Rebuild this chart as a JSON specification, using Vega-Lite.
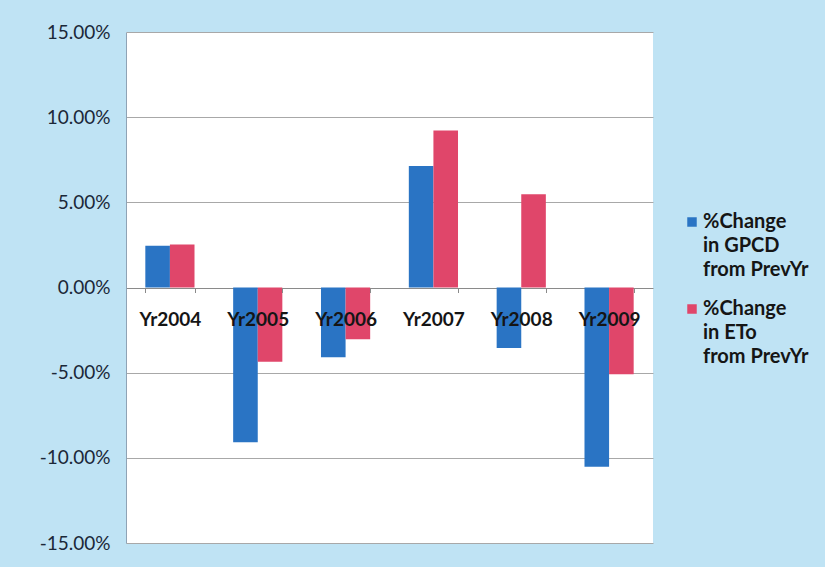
{
  "$schema": "https://vega.github.io/schema/vega-lite/v6.json",
  "width": 527,
  "height": 511,
  "autosize": {"type": "none"},
  "padding": {"left": 126, "top": 32, "right": 172, "bottom": 24},
  "background": "#bfe3f4",
  "data": {
    "values": [
      {"year": "Yr2004", "series": "%Change in GPCD from PrevYr", "value": 0.0245},
      {"year": "Yr2004", "series": "%Change in ETo from PrevYr", "value": 0.0253},
      {"year": "Yr2005", "series": "%Change in GPCD from PrevYr", "value": -0.0909},
      {"year": "Yr2005", "series": "%Change in ETo from PrevYr", "value": -0.0436},
      {"year": "Yr2006", "series": "%Change in GPCD from PrevYr", "value": -0.041},
      {"year": "Yr2006", "series": "%Change in ETo from PrevYr", "value": -0.0304},
      {"year": "Yr2007", "series": "%Change in GPCD from PrevYr", "value": 0.0713},
      {"year": "Yr2007", "series": "%Change in ETo from PrevYr", "value": 0.0921},
      {"year": "Yr2008", "series": "%Change in GPCD from PrevYr", "value": -0.0355},
      {"year": "Yr2008", "series": "%Change in ETo from PrevYr", "value": 0.0547},
      {"year": "Yr2009", "series": "%Change in GPCD from PrevYr", "value": -0.1053},
      {"year": "Yr2009", "series": "%Change in ETo from PrevYr", "value": -0.051}
    ]
  },
  "mark": {"type": "bar"},
  "encoding": {
    "x": {
      "field": "year",
      "type": "nominal",
      "sort": null,
      "scale": {"paddingInner": 0.44, "paddingOuter": 0.22},
      "axis": {
        "title": null,
        "orient": "bottom",
        "offset": -255.5,
        "zindex": 1,
        "domain": false,
        "labelAngle": 0,
        "labelFont": "Lato",
        "labelFontWeight": "bold",
        "labelFontSize": 19,
        "labelColor": "#151515",
        "tickBand": "extent",
        "tickSize": 5,
        "tickColor": "#8a8a8a",
        "labelPadding": 18,
        "grid": false
      }
    },
    "xOffset": {
      "field": "series",
      "type": "nominal",
      "scale": {"domain": ["%Change in GPCD from PrevYr", "%Change in ETo from PrevYr"]}
    },
    "y": {
      "field": "value",
      "type": "quantitative",
      "scale": {"domain": [-0.15, 0.15], "nice": false},
      "axis": {
        "title": null,
        "values": [-0.15, -0.1, -0.05, 0, 0.05, 0.1, 0.15],
        "labelExpr": "replace(format(datum.value, '.2%'), '−', '-')",
        "labelFont": "Lato",
        "labelFontSize": 19,
        "labelColor": "#1b2838",
        "ticks": false,
        "labelPadding": 16,
        "domainColor": "#8fa3b5",
        "gridColor": {"condition": {"test": "datum.value === 0", "value": "#8a8a8a"}, "value": "#a8a8a8"},
        "gridWidth": 1
      }
    },
    "color": {
      "field": "series",
      "type": "nominal",
      "scale": {
        "domain": ["%Change in GPCD from PrevYr", "%Change in ETo from PrevYr"],
        "range": ["#2a74c4", "#e0466a"]
      },
      "legend": {
        "title": null,
        "orient": "none",
        "legendX": 556,
        "legendY": 180,
        "padding": 0,
        "symbolType": "square",
        "symbolSize": 90,
        "symbolStrokeWidth": 0,
        "symbolOpacity": 1,
        "labelFont": "Lato",
        "labelFontWeight": "bold",
        "labelFontSize": 20,
        "labelColor": "#151515",
        "labelLimit": 250,
        "labelOffset": 1,
        "labelBaseline": "top",
        "rowPadding": 19,
        "labelExpr": "split(replace(replace(datum.label, ' in ', '|in '), ' from ', '|from '), '|')",
        "encode": {
          "labels": {"update": {"lineHeight": {"value": 24}, "dy": {"value": -10}}}
        }
      }
    }
  },
  "config": {"view": {"fill": "white", "stroke": null}}
}
